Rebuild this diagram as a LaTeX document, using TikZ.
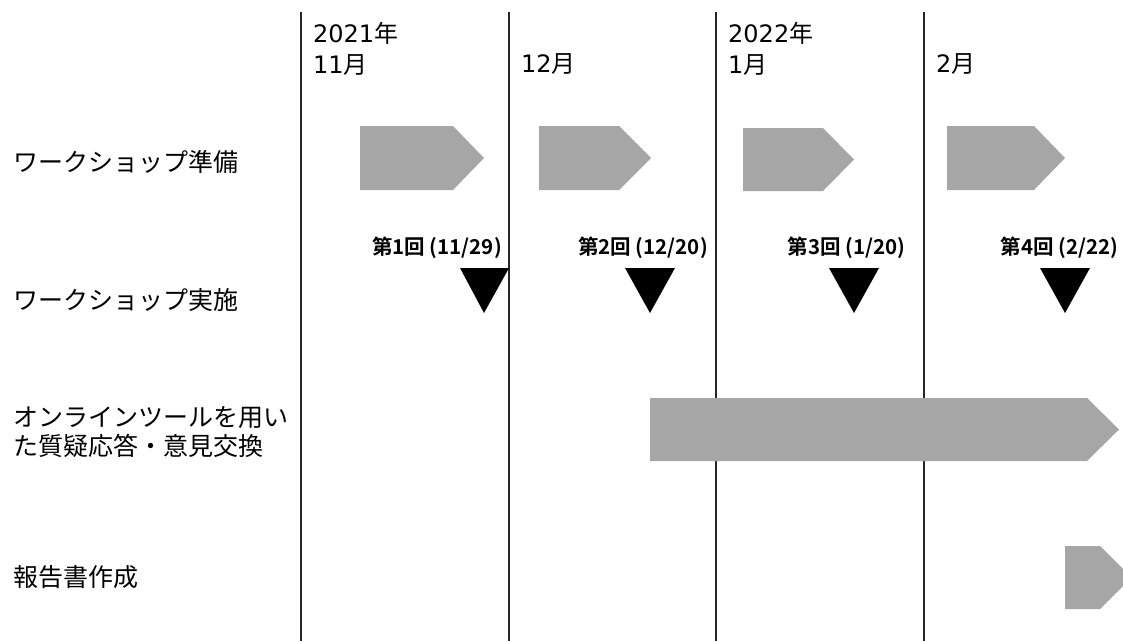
\documentclass[tikz,border=0pt]{standalone}
\usepackage{fontspec}
\setmainfont{Noto Sans CJK JP}
\newfontfamily\jpbold{Noto Sans CJK JP Bold}
\newfontfamily\digitfont{DejaVu Sans}
\definecolor{barGray}{HTML}{A6A6A6}
\begin{document}
\begin{tikzpicture}[x=1pt,y=-1pt,
  grid/.style={draw=black!85, line width=1.3pt},
  bar/.style={fill=barGray, draw=none},
  mile/.style={fill=black, draw=none},
  rowlabel/.style={anchor=west, inner sep=0pt, align=left, font=\fontsize{25}{29}\selectfont},
  monthlabel/.style={anchor=west, inner sep=0pt, align=left, font=\fontsize{24}{31}\selectfont},
  evlabel/.style={anchor=center, inner sep=0pt, font=\jpbold\fontsize{20.5}{22}\selectfont}]
\useasboundingbox (0,0) rectangle (1123,641);
% vertical month separators
\coordinate (l1t) at (301,12); \coordinate (l1b) at (301,641);
\coordinate (l2t) at (509,12); \coordinate (l2b) at (509,641);
\coordinate (l3t) at (716,12); \coordinate (l3b) at (716,641);
\coordinate (l4t) at (924,12); \coordinate (l4b) at (924,641);
\draw[grid] (l1t) -- (l1b);
\draw[grid] (l2t) -- (l2b);
\draw[grid] (l3t) -- (l3b);
\draw[grid] (l4t) -- (l4b);
% month headers
\node[monthlabel] (m1) at (313,48.5) {{\digitfont 2021}年\\{\digitfont 11}月};
\node[monthlabel] (m2) at (521,64) {{\digitfont 12}月};
\node[monthlabel] (m3) at (728,48.5) {{\digitfont 2022}年\\{\digitfont 1}月};
\node[monthlabel] (m4) at (936,64) {{\digitfont 2}月};
% row labels
\node[rowlabel] (r1) at (13,162) {ワークショップ準備};
\node[rowlabel] (r2) at (13,300) {ワークショップ実施};
\node[rowlabel] (r3) at (13,432.5) {オンラインツールを用い\\た質疑応答・意見交換};
\node[rowlabel] (r4) at (13,577.5) {報告書作成};
% preparation arrows
\fill[bar] (360,126) -- (453,126) -- (484,158) -- (453,190) -- (360,190) -- cycle;
\fill[bar] (539,126) -- (619,126) -- (651,158) -- (619,190) -- (539,190) -- cycle;
\fill[bar] (743,128) -- (823,128) -- (854,159.5) -- (823,191) -- (743,191) -- cycle;
\fill[bar] (947,126) -- (1034,126) -- (1065,158) -- (1034,190) -- (947,190) -- cycle;
% workshop milestones
\fill[mile] (460,268) -- (509,268) -- (484,313) -- cycle;
\fill[mile] (625,268) -- (675,268) -- (650,313) -- cycle;
\fill[mile] (829,268) -- (879,268) -- (854,313) -- cycle;
\fill[mile] (1040,268) -- (1090,268) -- (1065,313) -- cycle;
\node[evlabel] (e1) at (437,248) {第1回 (11/29)};
\node[evlabel] (e2) at (643,248) {第2回 (12/20)};
\node[evlabel] (e3) at (846.5,248) {第3回 (1/20)};
\node[evlabel] (e4) at (1059.5,248) {第4回 (2/22)};
% online Q&A
\fill[bar] (650,398) -- (1087,398) -- (1119,429.5) -- (1087,461) -- (650,461) -- cycle;
% report
\fill[bar] (1065,546) -- (1100,546) -- (1123,569) -- (1123,586) -- (1100,609) -- (1065,609) -- cycle;
\end{tikzpicture}
\end{document}
